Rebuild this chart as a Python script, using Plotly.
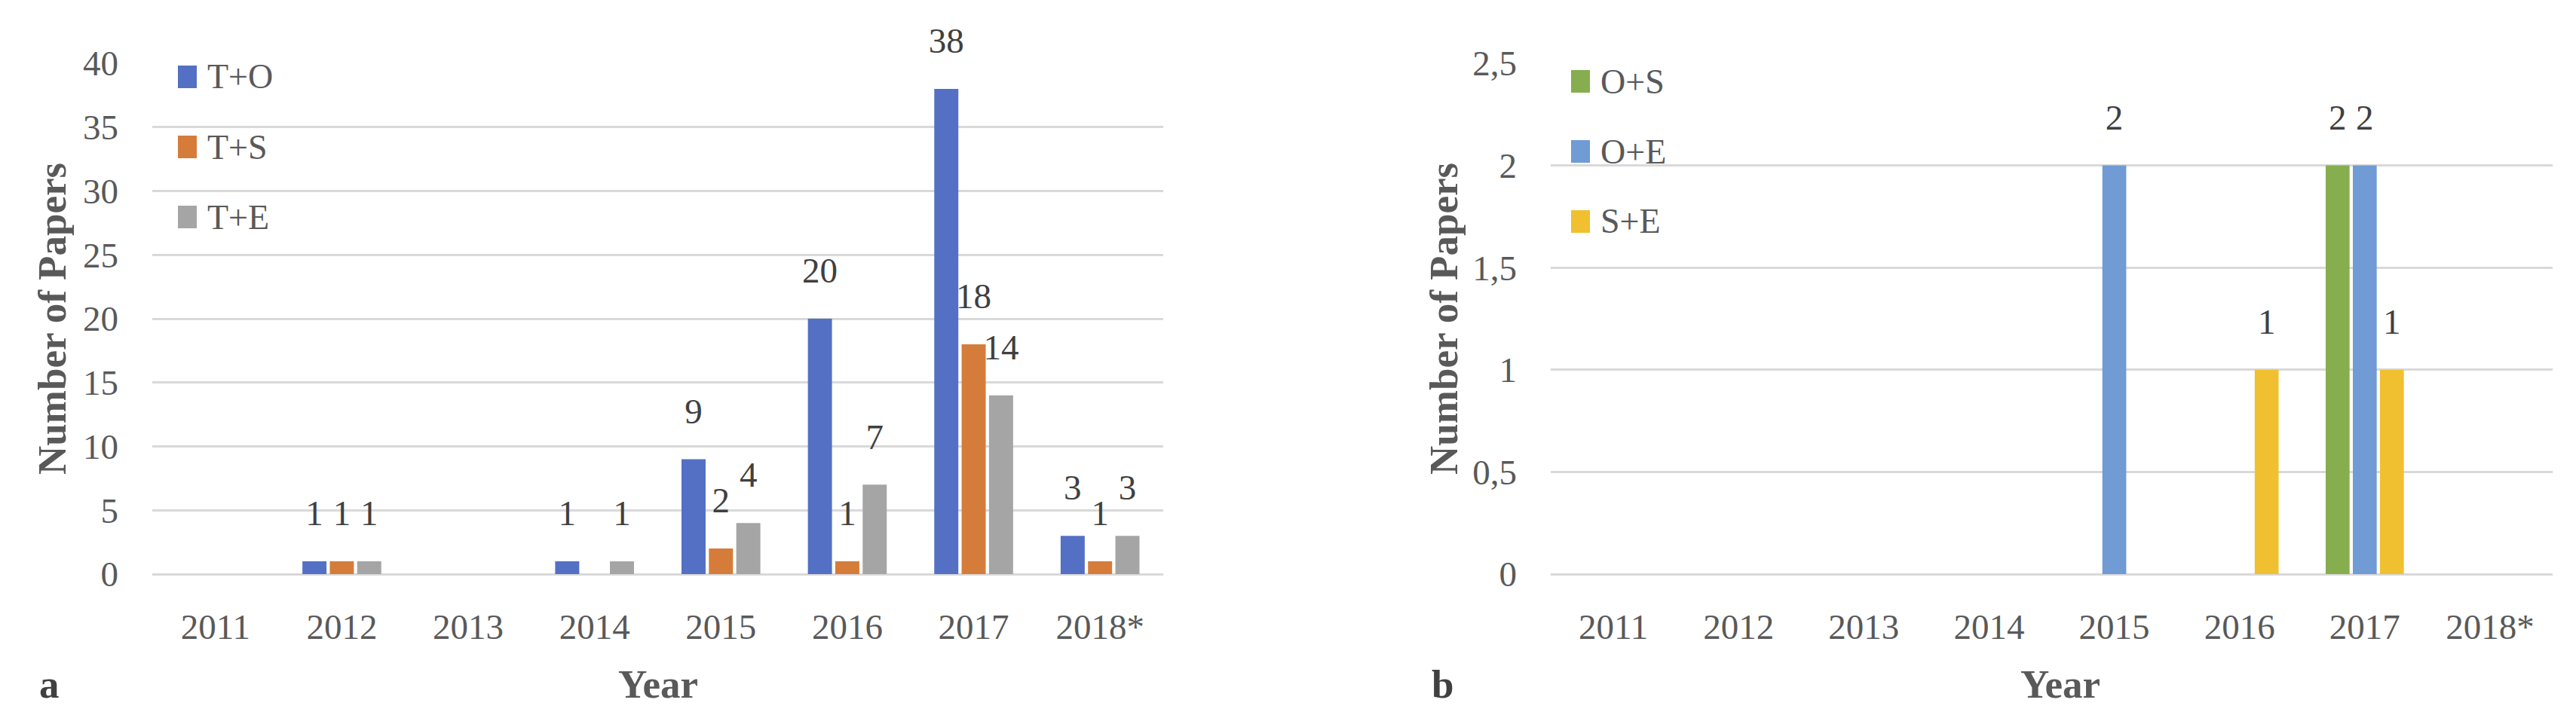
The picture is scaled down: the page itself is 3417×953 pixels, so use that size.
import plotly.graph_objects as go

W, H = 3417, 953

years = ["2011", "2012", "2013", "2014", "2015", "2016", "2017", "2018*"]

# Panel a
series_a_names = ["T+O", "T+S", "T+E"]
t_o = [0, 1, 0, 1, 9, 20, 38, 3]
t_s = [0, 1, 0, 0, 2, 1, 18, 1]
t_e = [0, 1, 0, 1, 4, 7, 14, 3]
colors_a = ["#5470C4", "#D67C3A", "#A5A5A5"]

# Panel b
series_b_names = ["O+S", "O+E", "S+E"]
o_s = [0, 0, 0, 0, 0, 0, 2, 0]
o_e = [0, 0, 0, 0, 2, 0, 2, 0]
s_e = [0, 0, 0, 0, 0, 1, 1, 0]
colors_b = ["#86AE4E", "#709BD4", "#F0C030"]

SERIF = "Liberation Serif"
TICK_COLOR = "#595959"
LABEL_COLOR = "#404040"
GRID = "#D9D9D9"


def px_x(p):
    return p / W


def px_y(p):
    return 1 - p / H


fig = go.Figure()

panels = [
    ("x", "y", series_a_names, [t_o, t_s, t_e], colors_a, "a"),
    ("x2", "y2", series_b_names, [o_s, o_e, s_e], colors_b, "b"),
]

for xa, ya, names, vals, cols, tag in panels:
    for name, v, c in zip(names, vals, cols):
        grp = tag + name
        fig.add_trace(go.Bar(
            x=years, y=v, name=name, marker=dict(color=c, line=dict(width=0)),
            xaxis=xa, yaxis=ya, offsetgroup=grp, alignmentgroup=tag,
            showlegend=False, hoverinfo="skip",
        ))
    for name, v, c in zip(names, vals, cols):
        grp = tag + name
        fig.add_trace(go.Scatter(
            x=years, y=v, mode="markers+text",
            text=[str(val) if val else "" for val in v],
            textposition="top center",
            textfont=dict(family=SERIF, size=47, color=LABEL_COLOR),
            marker=dict(size=56, color="rgba(0,0,0,0)"),
            xaxis=xa, yaxis=ya, offsetgroup=grp, alignmentgroup=tag,
            showlegend=False, hoverinfo="skip", cliponaxis=False,
        ))

axis_common = dict(
    showline=False, ticks="", tickfont=dict(family=SERIF, size=47, color=TICK_COLOR),
    automargin=False,
)

fig.update_layout(
    width=W, height=H,
    margin=dict(l=0, r=0, t=0, b=0),
    paper_bgcolor="white", plot_bgcolor="white",
    barmode="group", bargap=0.35, bargroupgap=0.12,
    scattermode="group", scattergap=0.35,
    separators=",.",
    xaxis=dict(domain=[px_x(194), px_x(1535)], anchor="y", type="category",
               showgrid=False, ticklabelstandoff=38, **axis_common),
    yaxis=dict(domain=[px_y(754), px_y(76)], anchor="x", range=[0, 40],
               tickvals=[0, 5, 10, 15, 20, 25, 30, 35, 40],
               showgrid=True, gridcolor=GRID, gridwidth=3,
               zeroline=True, zerolinecolor=GRID, zerolinewidth=3,
               ticklabelstandoff=44, **axis_common),
    xaxis2=dict(domain=[px_x(2049), px_x(3378)], anchor="y2", type="category",
                showgrid=False, ticklabelstandoff=38, **axis_common),
    yaxis2=dict(domain=[px_y(754), px_y(76)], anchor="x2", range=[0, 2.5],
                tickvals=[0, 0.5, 1, 1.5, 2, 2.5],
                showgrid=True, gridcolor=GRID, gridwidth=3,
                zeroline=True, zerolinecolor=GRID, zerolinewidth=3,
                ticklabelstandoff=44, **axis_common),
)

# Manual legends (larger swatches as in the reference)
legend_specs = [
    (series_a_names, colors_a, 228, 79),
    (series_b_names, colors_b, 2076, 85),
]
sw_w, sw_h, step = 25, 30, 93
for names, cols, lx, ly in legend_specs:
    for i, (n, c) in enumerate(zip(names, cols)):
        top = ly + i * step
        fig.add_shape(type="rect", xref="paper", yref="paper",
                      x0=px_x(lx), x1=px_x(lx + sw_w),
                      y0=px_y(top + sw_h), y1=px_y(top),
                      fillcolor=c, line=dict(width=0))
        fig.add_annotation(xref="paper", yref="paper", x=px_x(lx + sw_w + 12),
                           y=px_y(top + sw_h / 2), text=n, showarrow=False,
                           xanchor="left", yanchor="middle",
                           font=dict(family=SERIF, size=46, color=TICK_COLOR))

# Axis titles and panel labels
title_font = dict(family=SERIF, size=53, color=TICK_COLOR)
for cx in (61, 1907):
    fig.add_annotation(xref="paper", yref="paper", x=px_x(cx), y=px_y(415),
                       text="<b>Number of Papers</b>", textangle=-90, showarrow=False,
                       xanchor="center", yanchor="middle", font=title_font)
for cx in (865, 2725):
    fig.add_annotation(xref="paper", yref="paper", x=px_x(cx), y=px_y(900),
                       text="<b>Year</b>", showarrow=False,
                       xanchor="center", yanchor="middle", font=title_font)
for cx, lab in ((57, "a"), (1905, "b")):
    fig.add_annotation(xref="paper", yref="paper", x=px_x(cx), y=px_y(900),
                       text="<b>" + lab + "</b>", showarrow=False,
                       xanchor="center", yanchor="middle",
                       font=dict(family=SERIF, size=53, color=LABEL_COLOR))

fig.write_html("out.html")
